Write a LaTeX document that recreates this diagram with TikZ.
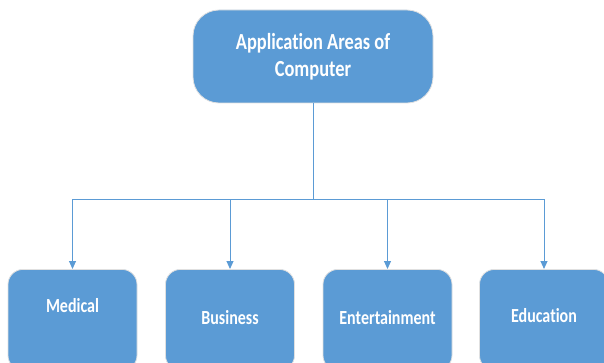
\documentclass[tikz,border=0pt]{standalone}
\usepackage{fontspec}
\setmainfont{Carlito}[FakeStretch=0.8, Ligatures=NoCommon]
\usetikzlibrary{arrows.meta, positioning}
\definecolor{boxblue}{HTML}{5B9BD5}

\begin{document}
\begin{tikzpicture}[x=1pt, y=1pt,
    areabox/.style={fill=boxblue, draw=black!12, line width=0.8pt, rounded corners=15pt,
        minimum width=129pt, inner sep=0pt, anchor=north, text=white,
        font=\fontsize{20}{24}\selectfont\bfseries},
    topbox/.style={fill=boxblue, draw=black!12, line width=0.8pt, rounded corners=26pt,
        minimum width=240pt, minimum height=93pt, inner sep=0pt, align=center, text=white,
        font=\fontsize{23}{27}\selectfont\bfseries},
    link/.style={draw=boxblue, line width=1pt},
    linkarrow/.style={link, -{Triangle[length=8pt, width=7pt]}}]
    \useasboundingbox (0,0) rectangle (604,362);
    \clip (0,0) rectangle (604,362);

    \node[topbox] (apps) at (313,305.5) {Application Areas of\\Computer};

    \node[areabox, text height=43pt, text depth=58pt] (medical) at (72.5,93) {Medical};
    \node[areabox, text height=55pt, text depth=46pt] (business) at (230,93) {Business};
    \node[areabox, text height=55pt, text depth=46pt] (entertain) at (387.5,93) {Entertainment};
    \node[areabox, text height=53pt, text depth=48pt] (education) at (544,93) {Education};

    \coordinate (split) at ([yshift=-96pt]apps.south);
    \draw[link] (apps.south) -- (split);
    \draw[linkarrow] (split) -| (medical.north);
    \draw[linkarrow] (split) -| (business.north);
    \draw[linkarrow] (split) -| (entertain.north);
    \draw[linkarrow] (split) -| (education.north);
\end{tikzpicture}
\end{document}
